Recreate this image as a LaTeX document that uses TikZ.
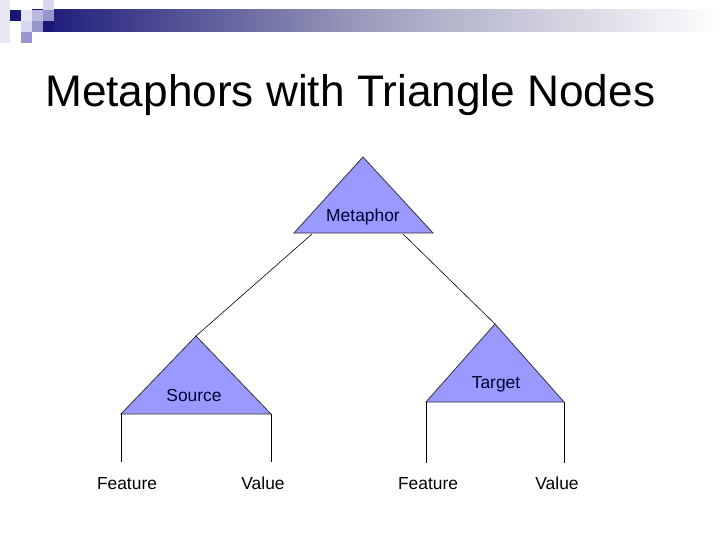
\documentclass[tikz,border=0pt]{standalone}
\usepackage{fontspec}
\setmainfont{Liberation Sans}
\definecolor{navy}{RGB}{24,24,120}
\definecolor{lav1}{RGB}{214,214,236}
\definecolor{lav2}{RGB}{184,184,224}
\definecolor{lav3}{RGB}{150,150,204}
\definecolor{trifill}{RGB}{153,153,255}
\definecolor{labtext}{RGB}{0,0,51}
\begin{document}
\begin{tikzpicture}[x=1pt,y=-1pt,
  tri/.style={fill=trifill,draw=black!80,line width=0.8pt,line join=miter},
  conn/.style={draw=black,line width=0.6pt},
  leg/.style={draw=black,line width=0.8pt},
  trilab/.style={text=labtext,font=\fontsize{17.4}{20}\selectfont,anchor=base,inner sep=0pt},
  leaf/.style={text=black,font=\fontsize{17.4}{20}\selectfont,anchor=base,inner sep=0pt}]
\useasboundingbox (0,0) rectangle (720,540);
\fill[white] (0,0) rectangle (720,540);
% header bar
\shade[left color=navy, right color=white, middle color={rgb,255:red,160;green,160;blue,190}] (32,10) rectangle (720,32);
% squares
\fill[lav1!60] (0,0) rectangle (10,43);
\fill[navy] (10,10) rectangle (21,21);
\fill[lav1!70] (21,10) rectangle (32,21);
\fill[lav2] (32,10) rectangle (43,21);
\fill[lav3] (43,10) rectangle (54,21);
\fill[lav1] (43,0) rectangle (54,10);
\fill[lav1] (21,21) rectangle (32,32);
\fill[lav3] (32,21) rectangle (43,32);
\fill[navy] (43,21) rectangle (54,32);
\fill[lav3] (21,32) rectangle (32,43);
% title
\node[anchor=base west,inner sep=0pt,font=\fontsize{44.2}{50}\selectfont] (title) at (45,107) {Metaphors with Triangle Nodes};
% triangles
\coordinate (mApex) at (363,157);
\coordinate (mL) at (294,233);
\coordinate (mR) at (433,233);
\coordinate (mOutL) at (312,234);
\coordinate (mOutR) at (403,234);
\coordinate (sApex) at (196,336);
\coordinate (sL) at (121,414);
\coordinate (sR) at (271,414);
\coordinate (tApex) at (495,324);
\coordinate (tL) at (426,402);
\coordinate (tR) at (564,402);
\path[tri] (mApex) -- (mL) -- (mR) -- cycle;
\path[tri] (sApex) -- (sL) -- (sR) -- cycle;
\path[tri] (tApex) -- (tL) -- (tR) -- cycle;
\node[trilab] (metaphor) at (363,222) {Metaphor};
\node[trilab] (source) at (194,401) {Source};
\node[trilab] (target) at (496,388) {Target};
% connectors
\draw[conn] (mOutL) -- (sApex);
\draw[conn] (mOutR) -- (tApex);
% legs
\coordinate (sLB) at (121,462);
\coordinate (sRB) at (271,462);
\coordinate (tLB) at (426,463);
\coordinate (tRB) at (564,463);
\draw[leg] (sL) -- (sLB);
\draw[leg] (sR) -- (sRB);
\draw[leg] (tL) -- (tLB);
\draw[leg] (tR) -- (tRB);
\node[leaf] (sFeat) at (127,489) {Feature};
\node[leaf] (sVal) at (263,489) {Value};
\node[leaf] (tFeat) at (428,489) {Feature};
\node[leaf] (tVal) at (557,489) {Value};
\end{tikzpicture}
\end{document}
